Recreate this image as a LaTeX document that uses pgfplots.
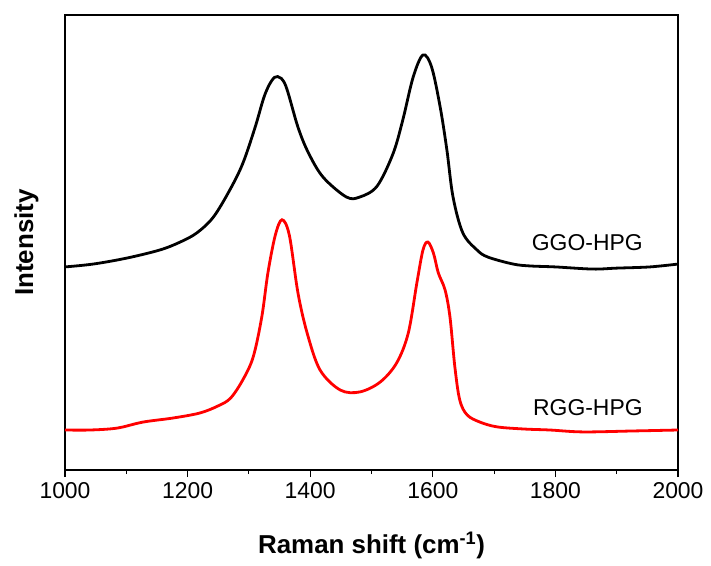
\documentclass[border=0pt]{standalone}
\usepackage{fontspec}
\setmainfont{Liberation Sans}
\usepackage{pgfplots}
\pgfplotsset{compat=1.18}
\begin{document}
\begin{tikzpicture}
\begin{axis}[
  name=ax,
  scale only axis,
  width=613bp, height=455bp,
  xmin=1000, xmax=2000, ymin=0, ymax=19,
  xtick={1000,1200,...,2000},
  minor x tick num=1,
  xtick pos=bottom,
  xtick align=outside,
  major tick length=7bp,
  minor tick length=4bp,
  ytick=\empty,
  minor ytick={1,...,18},
  ytick align=inside,
  axis line style={line width=1.5bp},
  every tick/.style={line width=1.1bp, black},
  /pgf/number format/assume math mode=true,
  /pgf/number format/set thousands separator={},
  ticklabel style={font=\fontsize{23}{27}\selectfont},
  xticklabel style={yshift=-2bp},
  xlabel={\textbf{Raman shift (cm\textsuperscript{-1})}},
  ylabel={\textbf{Intensity}},
  label style={font=\fontsize{26}{30}\selectfont},
  xlabel style={at={(axis description cs:0.5,-0.165)},anchor=center},
  ylabel style={at={(axis description cs:-0.063,0.5)},anchor=center},
  clip=true,
]
\addplot[black, line width=2.8bp, smooth, tension=0.55] coordinates {
(1000,8.48) (1046,8.60) (1101,8.85) (1155,9.19) (1188,9.52) (1215,9.90)
(1242,10.56) (1269,11.70) (1290,12.80) (1310,14.30) (1325,15.60) (1337,16.25)
(1347,16.43) (1360,16.05) (1380,14.32) (1397,13.25) (1421,12.23) (1459,11.40)
(1481,11.40) (1509,11.85) (1535,13.20) (1551,14.61) (1568,16.41) (1584,17.33)
(1598,16.83) (1612,15.16) (1623,13.36) (1633,11.40) (1649,9.90) (1672,9.19)
(1690,8.89) (1731,8.60) (1759,8.52) (1800,8.48) (1861,8.39) (1900,8.43)
(1954,8.48) (2000,8.60)
};
\addplot[red, line width=2.8bp, smooth, tension=0.55] coordinates {
(1000,1.67) (1041,1.67) (1085,1.75) (1127,2.00) (1176,2.17) (1220,2.38)
(1250,2.68) (1270,3.00) (1290,3.76) (1307,4.72) (1321,6.39) (1331,8.23)
(1343,9.80) (1354,10.45) (1366,9.80) (1380,7.40) (1395,5.72) (1416,4.18)
(1449,3.34) (1481,3.26) (1514,3.67) (1541,4.47) (1560,5.72) (1574,7.81)
(1584,9.19) (1592,9.52) (1601,9.06) (1609,8.23) (1620,7.52) (1628,6.39)
(1636,4.30) (1644,2.92) (1656,2.30) (1677,2.00) (1705,1.80) (1750,1.71)
(1791,1.67) (1845,1.59) (1927,1.63) (2000,1.67)
};
\node[font=\fontsize{23}{27}\selectfont] at (axis cs:1852,9.48) {GGO-HPG};
\node[font=\fontsize{23}{27}\selectfont] at (axis cs:1853,2.59) {RGG-HPG};
\end{axis}
\path (ax.south west) ++(-65bp,-96bp) coordinate (bl);
\path (ax.north east) ++(33bp,15bp) coordinate (tr);
\path (bl) rectangle (tr);
\end{tikzpicture}
\end{document}
